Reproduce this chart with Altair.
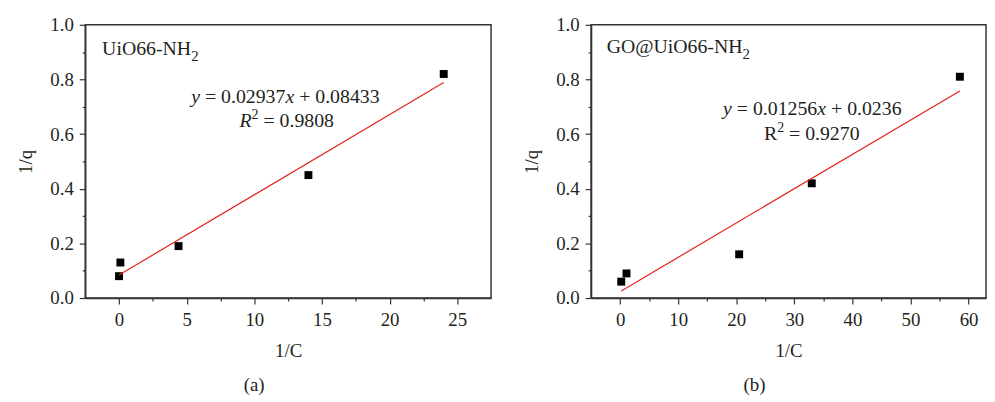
import altair as alt
import pandas as pd

# ---------------- data ----------------
a_x = [0.0, 0.1, 4.4, 14.0, 24.0]
a_y = [0.08, 0.13, 0.19, 0.45, 0.82]
a_fit_x = [0.0, 24.0]
a_fit_y = [0.0843, 0.789]

b_x = [0.2, 1.1, 20.5, 33.0, 58.5]
b_y = [0.06, 0.09, 0.16, 0.42, 0.81]
b_fit_x = [0.2, 58.5]
b_fit_y = [0.026, 0.758]

y_major = [0.0, 0.2, 0.4, 0.6, 0.8, 1.0]
y_minor = [0.1, 0.3, 0.5, 0.7, 0.9]
a_x_major = [0, 5, 10, 15, 20, 25]
a_x_minor = [2.5, 7.5, 12.5, 17.5, 22.5]
b_x_major = [0, 10, 20, 30, 40, 50, 60]
b_x_minor = [5, 15, 25, 35, 45, 55]
a_domain = [-2.5, 27.5]
b_domain = [-5, 63]

a_name = [("UiO66-NH", "normal", 1.0, 0), ("2", "normal", 0.75, 6)]
b_name = [("GO@UiO66-NH", "normal", 1.0, 0), ("2", "normal", 0.75, 6)]
a_eq = [("y", "italic", 1.0, 0), (" = 0.02937", "normal", 1.0, 0),
        ("x", "italic", 1.0, 0), (" + 0.08433", "normal", 1.0, 0)]
a_r2 = [("R", "italic", 1.0, 0), ("2", "normal", 0.7, -8), (" = 0.9808", "normal", 1.0, 0)]
b_eq = [("y", "italic", 1.0, 0), (" = 0.01256", "normal", 1.0, 0),
        ("x", "italic", 1.0, 0), (" + 0.0236", "normal", 1.0, 0)]
b_r2 = [("R", "normal", 1.0, 0), ("2", "normal", 0.7, -8), (" = 0.9270", "normal", 1.0, 0)]

# anchors (data coordinates) for the annotations
a_name_pos = (-1.25, 0.89)
a_eq_pos = (12.3, 0.713)
a_r2_pos = (12.4, 0.625)
b_name_pos = (-2.3, 0.898)
b_eq_pos = (33.1, 0.669)
b_r2_pos = (33.0, 0.578)

FONT = "Liberation Serif, Times New Roman, serif"
TXT = "#231f20"

# Times / Liberation Serif advance widths (per 1000 em)
REG = {" ": 250, ".": 250, "=": 564, "+": 564, "-": 333, "@": 921, "R": 667,
       "U": 722, "i": 278, "O": 722, "N": 722, "H": 722, "G": 722}
ITA = {"y": 444, "x": 444, "R": 611}


def adv(ch, style):
    if ch.isdigit():
        return 500
    if style == "italic" and ch in ITA:
        return ITA[ch]
    return REG.get(ch, 500)


def text_layers(tokens, pos, size, center, X, Y):
    pieces = []
    cur = 0.0
    for text, style, scale, dy in tokens:
        fs = size * scale
        run = ""
        start = cur
        for ch in text:
            if ch == " ":
                if run:
                    pieces.append((run, style, fs, dy, start))
                    run = ""
                cur += adv(ch, style) * fs / 1000
                start = cur
            else:
                if not run:
                    start = cur
                run += ch
                cur += adv(ch, style) * fs / 1000
        if run:
            pieces.append((run, style, fs, dy, start))
    total = cur
    off = -total / 2 if center else 0
    layers = []
    df = pd.DataFrame({"x": [pos[0]], "y": [pos[1]]})
    for run, style, fs, dy, start in pieces:
        layers.append(
            alt.Chart(df).mark_text(
                text=run, align="left", baseline="alphabetic", font=FONT,
                fontSize=fs, fontStyle=style, color=TXT, dx=start + off, dy=dy
            ).encode(x=X, y=Y)
        )
    return layers


def is_major(vals):
    return "indexof([" + ",".join(repr(float(v)) for v in vals) + "], datum.value) >= 0"


def axis_common():
    return dict(labelFont=FONT, labelFontSize=19, labelColor=TXT,
                titleFont=FONT, titleFontSize=19, titleFontWeight="normal", titleColor=TXT,
                grid=False, domainColor="#333333", domainWidth=1.5,
                tickColor="#333333", tickWidth=1.2)


def panel(xs, ys, fx, fy, xdom, xmaj, xmin, width, name, npos, eq, epos, r2, rpos, cap):
    pts = pd.DataFrame({"x": xs, "y": ys})
    fit = pd.DataFrame({"x": fx, "y": fy})
    xaxis = alt.Axis(
        values=[float(v) for v in xmaj + xmin], format="d",
        labelExpr=is_major(xmaj) + " ? datum.label : ''",
        tickSize={"condition": {"test": is_major(xmaj), "value": 6}, "value": 3},
        title="1/C", labelPadding=7, titlePadding=12, **axis_common()
    )
    yaxis = alt.Axis(
        values=[float(v) for v in y_major + y_minor], format=".1f",
        labelExpr=is_major(y_major) + " ? datum.label : ''",
        tickSize={"condition": {"test": is_major(y_major), "value": 6}, "value": 3},
        title="1/q", labelPadding=6, titlePadding=14, **axis_common()
    )
    xsc = alt.Scale(domain=xdom, nice=False, zero=False)
    ysc = alt.Scale(domain=[0, 1], nice=False)
    X = alt.X("x:Q", scale=xsc, axis=xaxis)
    Y = alt.Y("y:Q", scale=ysc, axis=yaxis)
    base_pts = alt.Chart(pts).mark_point(
        shape="square", filled=True, size=64, color="#000000", opacity=1
    ).encode(x=X, y=Y)
    line = alt.Chart(fit).mark_line(color="#e5231b", strokeWidth=1.2).encode(x=X, y=Y)
    layers = [base_pts, line]
    layers += text_layers(name, npos, 20, False, X, Y)
    layers += text_layers(eq, epos, 20, True, X, Y)
    layers += text_layers(r2, rpos, 20, True, X, Y)
    return alt.layer(*layers).properties(
        width=width, height=276,
        title=alt.TitleParams(cap, orient="bottom", frame="bounds", font=FONT,
                              fontSize=19, fontWeight="normal", color=TXT, offset=16),
    )


pa = panel(a_x, a_y, a_fit_x, a_fit_y, a_domain, a_x_major, a_x_minor, 410,
           a_name, a_name_pos, a_eq, a_eq_pos, a_r2, a_r2_pos, "(a)")
pb = panel(b_x, b_y, b_fit_x, b_fit_y, b_domain, b_x_major, b_x_minor, 399,
           b_name, b_name_pos, b_eq, b_eq_pos, b_r2, b_r2_pos, "(b)")

chart = alt.hconcat(pa, pb, spacing=30).properties(
    padding={"left": 8, "top": 5, "right": 0, "bottom": 0}
).configure(
    font=FONT,
    style={"guide-label": {"font": FONT}, "guide-title": {"font": FONT}},
).configure_view(
    stroke="#333333", strokeWidth=1.5
).configure_axis(
    labelFont=FONT, titleFont=FONT
)

chart.save("out.html", embed_options={"renderer": "svg", "actions": False})
